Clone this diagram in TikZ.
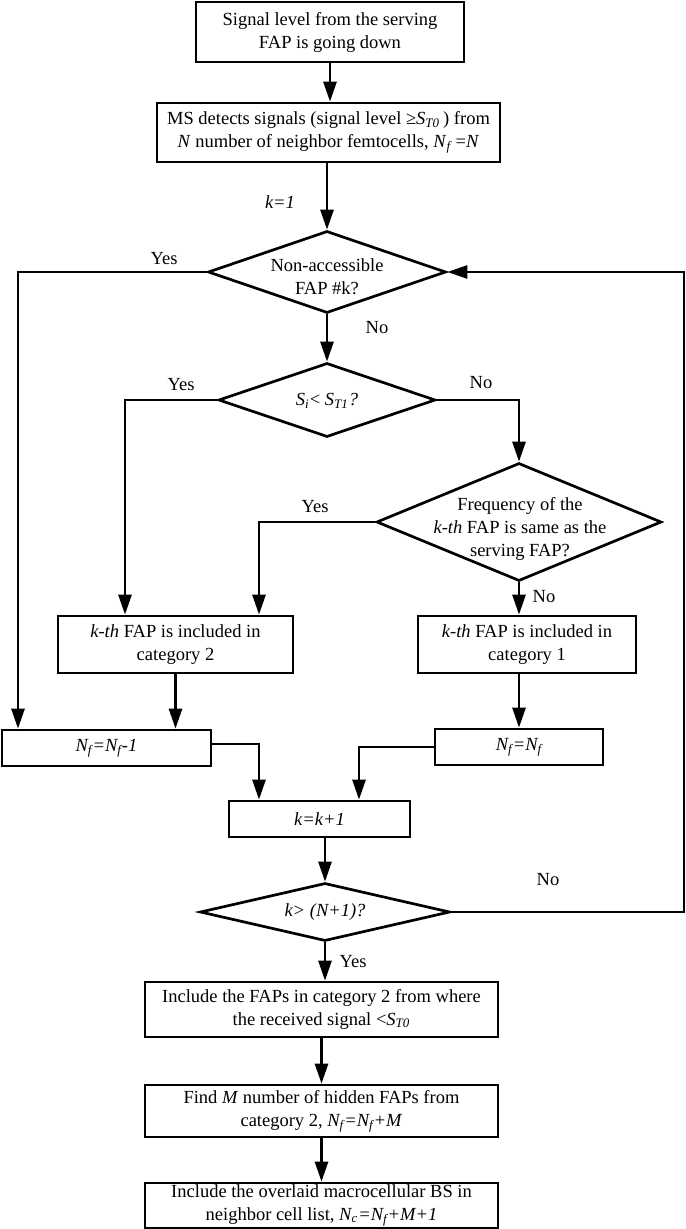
\documentclass[tikz,border=0pt]{standalone}
\usepackage{fontspec}
\setmainfont{Liberation Serif}
\usepackage{tikz}
\usetikzlibrary{arrows.meta,shapes.geometric}
\definecolor{ink}{HTML}{000000}
\tikzset{
  flowbox/.style={rectangle,draw=ink,line width=1.35pt,text=ink,align=center,
    font=\fontsize{9.25}{11.5}\selectfont,inner sep=0pt},
  flowdia/.style={diamond,draw=ink,line width=1.35pt,inner sep=0pt},
  flowtxt/.style={text=ink,align=center,font=\fontsize{9.25}{11.5}\selectfont,inner sep=0pt},
  flowarr/.style={-{Triangle[length=10pt,width=6.5pt]},line width=1.35pt,color=ink},
  flowlabel/.style={font=\fontsize{9.25}{11.5}\selectfont,text=ink,inner sep=0pt},
}
\newcommand{\fsub}[2]{\textit{#1}\textsubscript{\textit{#2}}}

\begin{document}
\begin{tikzpicture}[x=0.5pt,y=-0.5pt]
  \useasboundingbox (0,0) rectangle (685,1229);

  \node[flowbox,minimum width=134pt,minimum height=30pt] (sig) at (330,32)
    {Signal level from the serving\\FAP is going down};
  \node[flowbox,minimum width=171.5pt,minimum height=29.5pt] (det) at (328.5,132.5)
    {MS detects signals (signal level ≥\fsub{S}{T0}\,) from\\
     \textit{N} number of neighbor femtocells, \fsub{N}{f}\,=\textit{N}};

  \node[flowdia,minimum width=119pt,minimum height=41pt] (acc) at (327,272) {};
  \node[flowtxt] (acctxt) at (327,277) {Non-accessible\\FAP \#k?};
  \node[flowdia,minimum width=108.5pt,minimum height=37pt] (si) at (327,400) {};
  \node[flowtxt] (sitxt) at (327,401) {\fsub{S}{i}< \fsub{S}{T1}\textit{?}};
  \node[flowdia,minimum width=142.5pt,minimum height=59pt] (freq) at (519,522) {};
  \node[flowtxt] (freqtxt) at (520,529)
    {Frequency of the\\\textit{k-th} FAP is same as the\\serving FAP?};

  \node[flowbox,minimum width=117.5pt,minimum height=28.5pt] (cat2) at (175.5,644.5)
    {\textit{k-th} FAP is included in\\category 2};
  \node[flowbox,minimum width=109pt,minimum height=28.5pt] (cat1) at (527,644.5)
    {\textit{k-th} FAP is included in\\category 1};
  \node[flowbox,minimum width=104.5pt,minimum height=18pt] (nfm) at (106.5,748)
    {\textit{N\textsubscript{f}=N\textsubscript{f}-1}};
  \node[flowbox,minimum width=84pt,minimum height=18pt] (nfe) at (519,747)
    {\textit{N\textsubscript{f}=N\textsubscript{f}}};
  \node[flowbox,minimum width=90.5pt,minimum height=18pt] (kk) at (319.5,819)
    {\textit{k=k+1}};

  \node[flowdia,minimum width=125pt,minimum height=29pt] (kmax) at (325,912) {};
  \node[flowtxt] (kmaxtxt) at (325,912) {\textit{k> (N+1)?}};

  \node[flowbox,minimum width=176.5pt,minimum height=27.5pt] (inc) at (321.5,1009.5)
    {Include the FAPs in category 2 from where\\the received signal <\fsub{S}{T0}};
  \node[flowbox,minimum width=176.5pt,minimum height=26pt] (hid) at (321.5,1111)
    {Find \textit{M} number of hidden FAPs from\\
     category 2, \textit{N\textsubscript{f}=N\textsubscript{f}+M}};
  \node[flowbox,minimum width=176.5pt,minimum height=22.5pt] (mac) at (321.5,1205.5)
    {Include the overlaid macrocellular BS in\\
     neighbor cell list, \textit{N\textsubscript{c}=N\textsubscript{f}+M+1}};

  \coordinate (ya) at (18,0);
  \coordinate (yb) at (125,0);
  \coordinate (yc) at (259,0);
  \coordinate (yd) at (359,0);
  \coordinate (ye) at (684,0);

  \draw[flowarr] (sig.south) -- (sig.south |- det.north);
  \draw[flowarr] (det.south -| acc.north) -- (acc.north);
  \draw[flowarr] (acc.west) -| (ya |- nfm.north);
  \draw[flowarr] (acc.south) -- (si.north);
  \draw[flowarr] (si.west) -| (yb |- cat2.north);
  \draw[flowarr] (si.east) -| (freq.north);
  \draw[flowarr] (freq.west) -| (yc |- cat2.north);
  \draw[flowarr] (freq.south) -- (freq.south |- cat1.north);
  \draw[flowarr] (cat2.south) -- (cat2.south |- nfm.north);
  \draw[flowarr] (cat1.south -| nfe.north) -- (nfe.north);
  \draw[flowarr] ([yshift=2pt]nfm.east) -| (yc |- kk.north);
  \draw[flowarr] (nfe.west) -| (yd |- kk.north);
  \draw[flowarr] (kk.south -| kmax.north) -- (kmax.north);
  \draw[flowarr] (kmax.east) -| (ye |- acc.east) -- (acc.east);
  \draw[flowarr] (kmax.south) -- (kmax.south |- inc.north);
  \draw[flowarr] (inc.south) -- (hid.north);
  \draw[flowarr] (hid.south) -- (mac.north);

  \node[flowlabel] (lk1) at (280,202) {\textit{k=1}};
  \node[flowlabel] (lya) at (164,259) {Yes};
  \node[flowlabel] (lna) at (377,328) {No};
  \node[flowlabel] (lyb) at (181,385) {Yes};
  \node[flowlabel] (lnb) at (481,383) {No};
  \node[flowlabel] (lyc) at (315,507) {Yes};
  \node[flowlabel] (lnc) at (544,597) {No};
  \node[flowlabel] (lnd) at (548,880) {No};
  \node[flowlabel] (lyd) at (353,962) {Yes};
\end{tikzpicture}
\end{document}
